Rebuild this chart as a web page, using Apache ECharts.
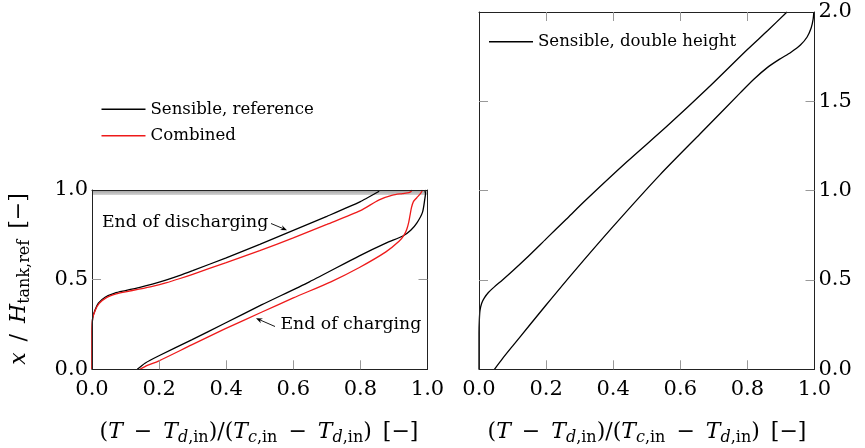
<!DOCTYPE html>
<html><head><meta charset="utf-8">
<script src="https://cdn.jsdelivr.net/npm/echarts@6/dist/echarts.min.js"></script>
<style>html,body{margin:0;padding:0;background:#fff}#c{width:865px;height:448px}</style>
</head><body><div id="c"></div>
<script>
// ---------------- data ----------------
const xTickValues = [0.2, 0.4, 0.6, 0.8];
const yTickLeft = [0.5];
const yTickRight = [0.5, 1.0, 1.5];

// Left panel: Sensible, reference — end of discharging
const refDisX = [0, 0, 0.002, 0.009, 0.019, 0.039, 0.068, 0.1, 0.14, 0.18, 0.22, 0.26, 0.3, 0.4, 0.5, 0.6, 0.7, 0.8, 0.856];
const refDisY = [0, 0.2, 0.285, 0.331, 0.369, 0.402, 0.425, 0.439, 0.456, 0.475, 0.497, 0.522, 0.55, 0.622, 0.697, 0.775, 0.853, 0.935, 0.993];
// Left panel: Sensible, reference — end of charging
const refChgX = [0.135, 0.158, 0.198, 0.297, 0.396, 0.505, 0.648, 0.797, 0.876, 0.928, 0.95, 0.968, 0.985, 0.992, 0.994, 0.992];
const refChgY = [0, 0.034, 0.074, 0.164, 0.257, 0.359, 0.488, 0.633, 0.704, 0.745, 0.775, 0.815, 0.875, 0.95, 0.98, 1.0];
// Left panel: Combined — end of discharging
const combDisX = [0, 0, 0.002, 0.01, 0.021, 0.042, 0.072, 0.1, 0.14, 0.18, 0.22, 0.26, 0.3, 0.4, 0.5, 0.6, 0.7, 0.8, 0.856, 0.896, 0.925, 0.945, 0.951, 0.954];
const combDisY = [0, 0.2, 0.285, 0.33, 0.366, 0.398, 0.42, 0.432, 0.447, 0.463, 0.482, 0.505, 0.53, 0.595, 0.662, 0.733, 0.808, 0.885, 0.945, 0.971, 0.98, 0.986, 0.992, 1.0];
// Left panel: Combined — end of charging
const combChgX = [0.143, 0.165, 0.198, 0.297, 0.396, 0.505, 0.6, 0.712, 0.797, 0.876, 0.916, 0.93, 0.938, 0.944, 0.948, 0.952, 0.958, 0.968, 0.98, 0.985];
const combChgY = [0, 0.022, 0.046, 0.136, 0.225, 0.318, 0.398, 0.488, 0.568, 0.655, 0.715, 0.748, 0.78, 0.82, 0.86, 0.9, 0.935, 0.957, 0.983, 1.0];
// Right panel: Sensible, double height
const dblDisX = [0, 0, 0.001, 0.003, 0.008, 0.016, 0.028, 0.045, 0.07, 0.1, 0.14, 0.2, 0.26, 0.32, 0.44, 0.56, 0.68, 0.8, 0.86, 0.918];
const dblDisY = [0, 0.2, 0.276, 0.33, 0.37, 0.4, 0.43, 0.46, 0.5, 0.55, 0.62, 0.73, 0.84, 0.95, 1.16, 1.36, 1.57, 1.79, 1.895, 2.0];
const dblChgX = [0.046, 0.07, 0.1, 0.15, 0.2, 0.28, 0.4, 0.54, 0.66, 0.78, 0.82, 0.86, 0.895, 0.93, 0.958, 0.978, 0.99, 0.996, 0.998];
const dblChgY = [0, 0.06, 0.13, 0.245, 0.36, 0.54, 0.8, 1.09, 1.32, 1.55, 1.625, 1.69, 1.735, 1.775, 1.815, 1.86, 1.91, 1.96, 2.0];

// ---------------- chart ----------------
const zip = (xs, ys) => xs.map((x, i) => [x, ys[i]]);
const FAM = 'DejaVu Serif';
const RED = '#ee1a1a';
const chart = echarts.init(document.getElementById('c'), null, {renderer: 'canvas'});

const frame = {show: true, onZero: false, lineStyle: {color: '#222', width: 1}};
const tick = (vals, show) => ({show: show, inside: true, length: 9, customValues: vals, lineStyle: {color: '#999', width: 1}});
const lab = (show, margin) => ({show: show, margin: margin, fontSize: 21, fontFamily: FAM, color: '#000',
  formatter: v => Number(v).toFixed(1), showMinLabel: true, showMaxLabel: true});

function xAx(grid, pos, labels, ticks) {
  return {gridIndex: grid, type: 'value', position: pos, min: 0, max: 1, interval: 0.2,
    axisLine: frame, axisTick: tick(xTickValues, ticks), axisLabel: lab(labels, 10), splitLine: {show: false}, z: 5};
}
function yAx(grid, pos, max, labels, vals, margin) {
  return {gridIndex: grid, type: 'value', position: pos, min: 0, max: max, interval: 0.5,
    axisLine: frame, axisTick: tick(vals, true), axisLabel: lab(labels, margin), splitLine: {show: false}, z: 5};
}

const lineSeries = (name, xi, yi, data, color, extra) => Object.assign({
  name: name, type: 'line', xAxisIndex: xi, yAxisIndex: yi, data: data,
  showSymbol: false, symbol: 'none', smooth: 0.25, clip: false,
  lineStyle: {color: color, width: 1.3}, itemStyle: {color: color}
}, extra || {});

const rich = {
  r: {fontFamily: FAM, fontSize: 22, lineHeight: 28, verticalAlign: 'middle', color: '#000'},
  i: {fontFamily: FAM, fontSize: 22, fontStyle: 'italic', lineHeight: 28, verticalAlign: 'middle', color: '#000'},
  si: {fontFamily: FAM, fontSize: 16, fontStyle: 'italic', lineHeight: 16, verticalAlign: 'bottom', color: '#000'},
  sr: {fontFamily: FAM, fontSize: 16, lineHeight: 16, verticalAlign: 'bottom', color: '#000'}
};
const xName = '{r|(}{i|T}{r|\u2002\u2212\u2002}{i|T}{si|d}{sr|,in}{r|)/(}{i|T}{si|c}{sr|,in}{r|\u2002\u2212\u2002}{i|T}{si|d}{sr|,in}{r|)\u2002[\u2212]}';
const yName = '{i|x}{r|\u2002/\u2002}{i|H}{sr|tank,ref}{r|\u2002[\u2212]}';

function arrow(x1, y1, x2, y2) {
  const dx = x2 - x1, dy = y2 - y1, L = Math.hypot(dx, dy), ux = dx / L, uy = dy / L;
  const hl = 6.5, hw = 2.6;
  const bx = x2 - ux * hl, by = y2 - uy * hl;
  return [
    {type: 'line', shape: {x1: x1, y1: y1, x2: x2 - ux * 3, y2: y2 - uy * 3}, style: {stroke: '#000', lineWidth: 0.9}},
    {type: 'polygon', shape: {points: [[x2, y2], [bx - uy * hw, by + ux * hw], [x2 - ux * hl * 0.65, y2 - uy * hl * 0.65], [bx + uy * hw, by - ux * hw]]}, style: {fill: '#000'}}
  ];
}

const annText = (t, x, y) => ({type: 'text', x: x, y: y, style: {text: t, x: 0, y: 0, fontFamily: FAM, fontSize: 17.3, fill: '#000', align: 'left', verticalAlign: 'middle'}});

const option = {
  animation: false,
  backgroundColor: '#fff',
  grid: [
    {left: 92, top: 190, width: 335.5, height: 179.3, containLabel: false},
    {left: 479, top: 12, width: 335.5, height: 357.3, containLabel: false}
  ],
  xAxis: [xAx(0, 'bottom', true, true), xAx(0, 'top', false, false), xAx(1, 'bottom', true, true), xAx(1, 'top', false, true)],
  yAxis: [yAx(0, 'left', 1, true, yTickLeft, 4), yAx(0, 'right', 1, false, yTickLeft, 4),
          yAx(1, 'right', 2, true, yTickRight, 4), yAx(1, 'left', 2, false, yTickRight, 4)],
  legend: [
    {data: ['Sensible, reference', 'Combined'], orient: 'vertical', left: 101.5, top: 99.3, padding: 0, itemGap: 6.4,
     itemWidth: 44, itemHeight: 1.5, icon: 'rect', selectedMode: false,
     textStyle: {fontFamily: FAM, fontSize: 16.6, color: '#000', lineHeight: 20}},
    {data: ['Sensible, double height'], orient: 'vertical', left: 489, top: 31.7, padding: 0,
     itemWidth: 44, itemHeight: 1.5, icon: 'rect', selectedMode: false,
     textStyle: {fontFamily: FAM, fontSize: 16.6, color: '#000', lineHeight: 20}}
  ],
  series: [
    lineSeries('Sensible, reference', 0, 0, zip(refDisX, refDisY), '#000', {
      markArea: {silent: true, itemStyle: {color: {type: 'linear', x: 0, y: 0, x2: 0, y2: 1,
        colorStops: [{offset: 0, color: '#9c9c9c'}, {offset: 1, color: '#d4d4d4'}]}, opacity: 1},
        data: [[{xAxis: 0, yAxis: 0.972}, {xAxis: 1, yAxis: 1}]]}
    }),
    lineSeries('Sensible, reference', 0, 0, zip(refChgX, refChgY), '#000'),
    lineSeries('Combined', 0, 0, zip(combDisX, combDisY), RED),
    lineSeries('Combined', 0, 0, zip(combChgX, combChgY), RED),
    lineSeries('Sensible, double height', 2, 2, zip(dblDisX, dblDisY), '#000'),
    lineSeries('Sensible, double height', 2, 2, zip(dblChgX, dblChgY), '#000')
  ],
  graphic: [
    {type: 'text', x: 259, y: 432, style: {text: xName, rich: rich, x: 0, y: 0, align: 'center', verticalAlign: 'middle'}},
    {type: 'text', x: 647, y: 432, style: {text: xName, rich: rich, x: 0, y: 0, align: 'center', verticalAlign: 'middle'}},
    {type: 'text', x: 19, y: 279, rotation: Math.PI / 2, style: {text: yName, rich: rich, x: 0, y: 0, align: 'center', verticalAlign: 'middle'}},
    annText('End of discharging', 102, 223),
    annText('End of charging', 280.5, 325)
  ].concat(arrow(271, 223.5, 287, 230.2), arrow(275, 326.5, 256, 318.2))
};
chart.setOption(option);
</script>
</body></html>
